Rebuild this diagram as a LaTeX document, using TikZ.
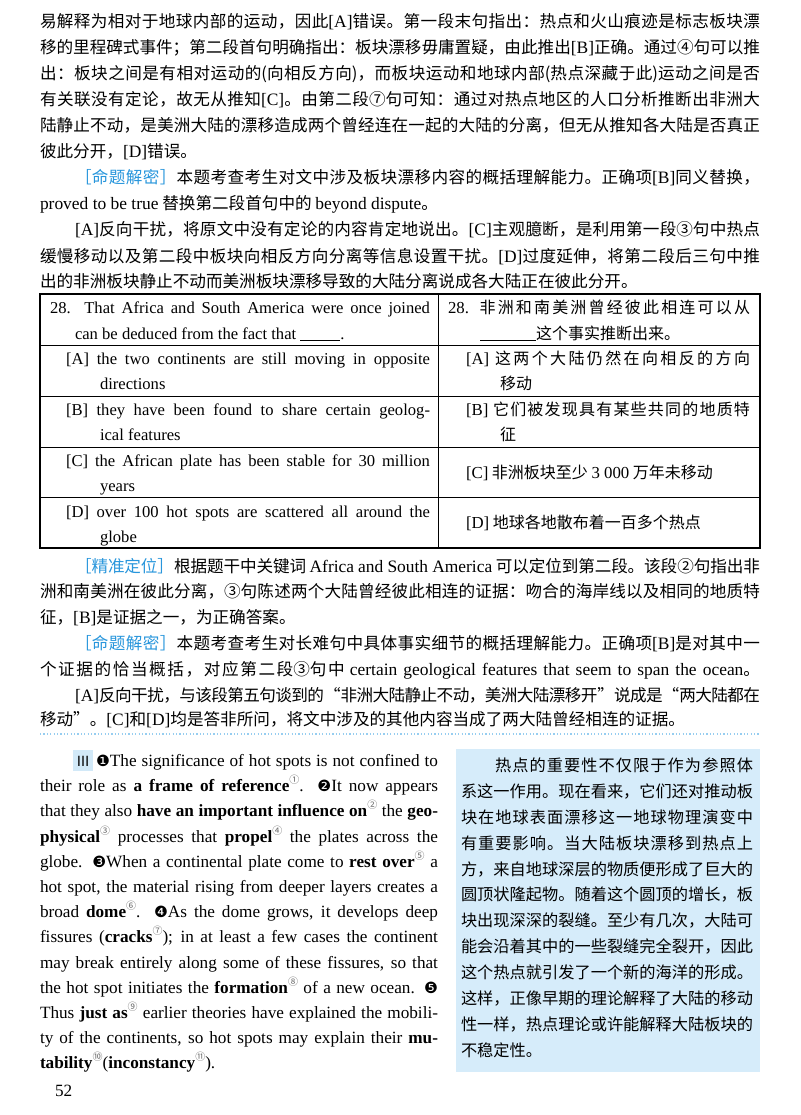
\documentclass[tikz,border=0pt]{standalone}
\usepackage{fontspec}
\setmainfont{Noto Sans CJK SC}
\newfontfamily\cjkf{Noto Sans CJK SC}
\newfontfamily\enf{Liberation Serif}
\newfontfamily\enfs[Scale=1.05]{Liberation Serif}
\newfontfamily\djf{DejaVu Sans}
\definecolor{lblue}{RGB}{40,150,220}
\definecolor{boxblue}{RGB}{214,236,250}
\definecolor{dotblue}{RGB}{150,205,240}
\XeTeXinterchartokenstate=1
\newXeTeXintercharclass\cjkclass
\newcount\cc
\cc="4E00 \loop \XeTeXcharclass\cc=\cjkclass \advance\cc 1 \ifnum\cc<"A000 \repeat
\cc="3000 \loop \XeTeXcharclass\cc=\cjkclass \advance\cc 1 \ifnum\cc<"3040 \repeat
\cc="FF00 \loop \XeTeXcharclass\cc=\cjkclass \advance\cc 1 \ifnum\cc<"FF60 \repeat
\XeTeXinterchartoks\cjkclass\cjkclass={\hskip0pt plus 2pt minus 0.6pt\relax}
\newcommand\en[1]{{\enfs #1}}
\newcommand\lb[1]{\textcolor{lblue}{［#1］}}
\newcommand\sps[1]{\raisebox{0.42em}{\fontsize{10}{10}\selectfont\cjkf\color{black!60}#1}}
\newcommand\ci[1]{{\djf\fontsize{15.5}{15}\selectfont #1}}
\newcounter{ln}
\newcommand\JL[4]{\stepcounter{ln}\node[txt] (ln\arabic{ln}) at (#1,#2) {\hbox to #3pt{#4}};}
\newcommand\NL[3]{\stepcounter{ln}\node[txt] (ln\arabic{ln}) at (#1,#2) {#3};}
\tikzset{txt/.style={anchor=base west,inner sep=0pt,outer sep=0pt}}
\begin{document}
\begin{tikzpicture}[x=1pt,y=-1pt]
\useasboundingbox (0,0) rectangle (800,1115);
\fill[white] (0,0) rectangle (800,1115);
% ---------- top text
\begin{scope}[font=\fontsize{16.6}{20}\selectfont]
\JL{40}{28}{720}{易解释为相对于地球内部的运动，因此\en{[A]}错误。第一段末句指出：热点和火山痕迹是标志板块漂}
\JL{40}{54}{720}{移的里程碑式事件；第二段首句明确指出：板块漂移毋庸置疑，由此推出\en{[B]}正确。通过④句可以推}
\JL{40}{80}{720}{出：板块之间是有相对运动的(向相反方向)，而板块运动和地球内部(热点深藏于此)运动之间是否}
\JL{40}{106}{720}{有关联没有定论，故无从推知\en{[C]}。由第二段⑦句可知：通过对热点地区的人口分析推断出非洲大}
\JL{40}{132}{720}{陆静止不动，是美洲大陆的漂移造成两个曾经连在一起的大陆的分离，但无从推知各大陆是否真正}
\NL{40}{158}{彼此分开，\en{[D]}错误。}
\JL{75}{184}{685}{\lb{命题解密}本题考查考生对文中涉及板块漂移内容的概括理解能力。正确项\en{[B]}同义替换，}
\NL{40}{210}{\en{proved to be true} 替换第二段首句中的 \en{beyond dispute}。}
\JL{75}{236}{685}{\en{[A]}反向干扰，将原文中没有定论的内容肯定地说出。\en{[C]}主观臆断，是利用第一段③句中热点}
\JL{40}{262}{720}{缓慢移动以及第二段中板块向相反方向分离等信息设置干扰。\en{[D]}过度延伸，将第二段后三句中推}
\NL{40}{287}{出的非洲板块静止不动而美洲板块漂移导致的大陆分离说成各大陆正在彼此分开。}
\end{scope}
% ---------- table
\draw[line width=1.1pt] (40,294) rectangle (760,548);
\draw[line width=0.6pt] (438,294) -- (438,548);
\foreach \yy in {345,396,447,497} \draw[line width=0.6pt] (40,\yy) -- (760,\yy);
\begin{scope}[font=\enf\fontsize{16.6}{18}\selectfont]
\JL{50}{313}{380}{28. That Africa and South America were once joined}
\NL{75}{339}{can be deduced from the fact that \underline{\hspace{40pt}}.}
\JL{66}{364}{364}{[A] the two continents are still moving in opposite}
\NL{100}{389}{directions}
\JL{66}{415}{364}{[B] they have been found to share certain geolog-}
\NL{100}{440}{ical features}
\JL{66}{466}{364}{[C] the African plate has been stable for 30 million}
\NL{100}{491}{years}
\JL{66}{517}{364}{[D] over 100 hot spots are scattered all around the}
\NL{100}{542}{globe}
\end{scope}
\begin{scope}[font=\fontsize{16}{19}\selectfont]
\JL{448}{313}{302}{\en{28.} 非洲和南美洲曾经彼此相连可以从}
\NL{480}{339}{\underline{\hspace{56pt}}这个事实推断出来。}
\JL{466}{364}{284}{\en{[A]} 这两个大陆仍然在向相反的方向}
\NL{500}{389}{移动}
\JL{466}{415}{284}{\en{[B]} 它们被发现具有某些共同的地质特}
\NL{500}{440}{征}
\NL{466}{478}{\en{[C]} 非洲板块至少 \en{3 000} 万年未移动}
\NL{466}{528}{\en{[D]} 地球各地散布着一百多个热点}
\end{scope}
% ---------- after table
\begin{scope}[font=\fontsize{16.6}{20}\selectfont]
\JL{75}{572}{685}{\lb{精准定位}根据题干中关键词 \en{Africa and South America} 可以定位到第二段。该段②句指出非}
\JL{40}{597}{720}{洲和南美洲在彼此分离，③句陈述两个大陆曾经彼此相连的证据：吻合的海岸线以及相同的地质特}
\NL{40}{623}{征，\en{[B]}是证据之一，为正确答案。}
\JL{75}{649}{685}{\lb{命题解密}本题考查考生对长难句中具体事实细节的概括理解能力。正确项\en{[B]}是对其中一}
\JL{40}{675}{720}{个证据的恰当概括，对应第二段③句中 \en{certain geological features that seem to span the ocean}。}
\JL{75}{701}{685}{\en{[A]}反向干扰，与该段第五句谈到的“非洲大陆静止不动，美洲大陆漂移开”说成是“两大陆都在}
\NL{40}{725}{移动”。\en{[C]}和\en{[D]}均是答非所问，将文中涉及的其他内容当成了两大陆曾经相连的证据。}
\end{scope}
\draw[dotblue,line width=1.2pt,dash pattern=on 1.2pt off 2.2pt] (40,734) -- (760,734);
% ---------- right box
\fill[boxblue] (456,749) rectangle (760,1072);
\begin{scope}[font=\fontsize{16.2}{19}\selectfont]
\JL{495}{771}{258}{热点的重要性不仅限于作为参照体}
\JL{461}{797}{292}{系这一作用。现在看来，它们还对推动板}
\JL{461}{823}{292}{块在地球表面漂移这一地球物理演变中}
\JL{461}{849}{292}{有重要影响。当大陆板块漂移到热点上}
\JL{461}{875}{292}{方，来自地球深层的物质便形成了巨大的}
\JL{461}{900}{292}{圆顶状隆起物。随着这个圆顶的增长，板}
\JL{461}{926}{292}{块出现深深的裂缝。至少有几次，大陆可}
\JL{461}{952}{292}{能会沿着其中的一些裂缝完全裂开，因此}
\JL{461}{978}{292}{这个热点就引发了一个新的海洋的形成。}
\JL{461}{1004}{292}{这样，正像早期的理论解释了大陆的移动}
\JL{461}{1030}{292}{性一样，热点理论或许能解释大陆板块的}
\NL{461}{1056}{不稳定性。}
\end{scope}
% ---------- passage
\fill[boxblue!80!lblue!60] (73,750) rectangle (93,771);
\begin{scope}[font=\enf\fontsize{17.2}{18}\selectfont]
\JL{76}{766}{362}{{\cjkf\fontsize{14}{14}\selectfont Ⅲ}\hspace{6pt}\ci{❶}The significance of hot spots is not confined to}
\JL{40}{791}{398}{their role as \textbf{a frame of reference}\sps{①}. \ci{❷}It now appears}
\JL{40}{816}{398}{that they also \textbf{have an important influence on}\sps{②} the \textbf{geo-}}
\JL{40}{842}{398}{\textbf{physical}\sps{③} processes that \textbf{propel}\sps{④} the plates across the}
\JL{40}{867}{398}{globe. \ci{❸}When a continental plate come to \textbf{rest over}\sps{⑤} a}
\JL{40}{892}{398}{hot spot, the material rising from deeper layers creates a}
\JL{40}{917}{398}{broad \textbf{dome}\sps{⑥}. \ci{❹}As the dome grows, it develops deep}
\JL{40}{942}{398}{fissures (\textbf{cracks}\sps{⑦}); in at least a few cases the continent}
\JL{40}{968}{398}{may break entirely along some of these fissures, so that}
\JL{40}{993}{398}{the hot spot initiates the \textbf{formation}\sps{⑧} of a new ocean. \ci{❺}}
\JL{40}{1018}{398}{Thus \textbf{just as}\sps{⑨} earlier theories have explained the mobili-}
\JL{40}{1043}{398}{ty of the continents, so hot spots may explain their \textbf{mu-}}
\NL{40}{1068}{\textbf{tability}\sps{⑩}(\textbf{inconstancy}\sps{⑪}).}
\NL{55}{1096}{52}
\end{scope}
\end{tikzpicture}
\end{document}
